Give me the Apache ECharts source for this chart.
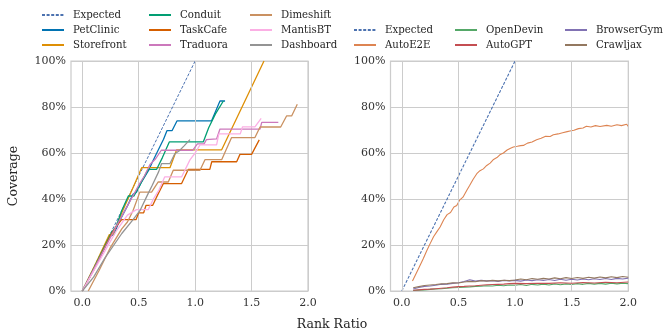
<!DOCTYPE html>
<html>
<head>
<meta charset="utf-8">
<script src="https://cdn.jsdelivr.net/npm/echarts@6/dist/echarts.min.js"></script>
<style>html,body{margin:0;padding:0;background:#fff;}#c{width:664px;height:333px;}</style>
</head>
<body>
<div id="c"></div>
<script>
// ---------- data (x = rank ratio, y = coverage %) ----------
var xTicks = [0, 0.5, 1.0, 1.5, 2.0];
var yTicks = [0, 20, 40, 60, 80, 100];

var expected = [[0,0],[1,100]];

var petClinic = [[0,0],[0.1,9],[0.2,19],[0.25,24],[0.28,24.5],[0.32,29.5],[0.4,37],[0.45,42],[0.48,43],[0.52,47],[0.59,52.6],[0.62,56],[0.66,60],[0.72,66],[0.75,69.7],[0.795,69.7],[0.84,74],[1.146,74],[1.22,82.6],[1.265,82.6]];
var storefront = [[0,0],[0.12,12],[0.24,24.5],[0.27,24.5],[0.35,34],[0.45,45],[0.526,53.6],[0.777,53.6],[0.836,61.4],[1.235,61.4],[1.61,100]];
var conduit = [[0,0],[0.1,9.5],[0.2,19.5],[0.26,25.5],[0.3,28],[0.35,35],[0.408,41.3],[0.458,41.3],[0.52,47],[0.585,52.9],[0.659,52.9],[0.71,58],[0.771,64.8],[1.072,64.8],[1.12,71],[1.18,77],[1.25,82.6]];
var taskCafe = [[0,0],[0.1,9],[0.2,19],[0.26,25],[0.3,28],[0.349,31],[0.476,31],[0.5,34],[0.544,34],[0.564,37.2],[0.623,37.2],[0.67,42],[0.718,46.7],[0.88,46.7],[0.94,52.9],[1.13,52.9],[1.147,56.2],[1.368,56.2],[1.397,59.4],[1.50,59.4],[1.568,65.7]];
var traduora = [[0,0],[0.15,14],[0.3,28],[0.4,37],[0.5,46],[0.55,50],[0.6,55],[0.65,57.5],[0.7,61.2],[0.98,61.2],[1.02,64],[1.08,64],[1.1,65.8],[1.19,66.1],[1.22,70.4],[1.575,70.4],[1.59,73.3],[1.737,73.3]];
var dimeshift = [[0.053,0],[0.15,9],[0.25,19],[0.3,23],[0.35,27],[0.4,30],[0.45,35],[0.51,43],[0.614,43],[0.673,47.4],[0.762,47.4],[0.806,52.5],[1.043,52.5],[1.087,57.1],[1.235,57.1],[1.323,66.7],[1.53,66.7],[1.575,71.3],[1.758,71.3],[1.81,76.1],[1.855,76.1],[1.905,81.2]];
var mantisBT = [[0,0],[0.15,13],[0.3,26],[0.4,33],[0.48,35.4],[0.585,35.4],[0.63,40],[0.68,44],[0.73,49.6],[0.88,49.6],[0.954,57],[1.0,60],[1.043,63.5],[1.19,63.5],[1.21,68.3],[1.40,68.3],[1.42,71.4],[1.53,71.4],[1.585,75.1]];
var dashboard = [[0,0],[0.1,6],[0.204,14.6],[0.35,25],[0.45,31],[0.514,35.2],[0.58,42],[0.62,46],[0.677,51.9],[0.703,55.4],[0.777,55.4],[0.82,59.7],[0.86,61],[0.9,63],[0.954,65.8]];

var autoE2E = [[0.094,4.3],[0.12,7],[0.15,10],[0.19,14.1],[0.22,17.5],[0.25,20.6],[0.28,23.6],[0.31,25.8],[0.338,27.8],[0.37,31],[0.40,33.2],[0.43,34.1],[0.46,36.5],[0.485,37.2],[0.51,39.5],[0.54,40.8],[0.574,43.8],[0.60,46],[0.63,48.6],[0.662,51],[0.69,52.3],[0.72,53.1],[0.75,54.6],[0.78,55.6],[0.81,57.2],[0.84,58],[0.87,59.4],[0.897,60],[0.93,61.3],[0.96,62.1],[0.985,62.6],[1.02,62.9],[1.05,63.2],[1.074,63.3],[1.11,64.3],[1.15,64.8],[1.19,65.8],[1.23,66.4],[1.27,67.3],[1.31,67.2],[1.338,67.9],[1.38,68.3],[1.42,68.8],[1.46,69.3],[1.485,69.6],[1.52,69.9],[1.56,70.6],[1.6,70.9],[1.63,71.6],[1.67,71.3],[1.71,71.9],[1.75,71.5],[1.81,72],[1.85,71.6],[1.9,72.3],[1.94,71.9],[1.985,72.5],[2.0,71.6]];
var openDevin = [[0.1,0.2],[0.15,0.4],[0.2,0.5],[0.25,0.7],[0.3,0.9],[0.35,1.0],[0.4,1.2],[0.45,1.4],[0.5,1.5],[0.55,1.7],[0.6,1.8],[0.65,2.0],[0.7,2.1],[0.75,2.3],[0.8,2.2],[0.85,2.5],[0.9,2.3],[0.95,2.6],[1.0,2.5],[1.05,2.8],[1.1,2.4],[1.15,2.9],[1.2,2.6],[1.25,3.0],[1.3,2.6],[1.35,3.1],[1.4,2.7],[1.45,3.1],[1.5,2.8],[1.55,3.2],[1.6,2.9],[1.65,3.3],[1.7,3.0],[1.75,3.3],[1.8,3.0],[1.85,3.4],[1.9,3.1],[1.95,3.4],[2.0,3.2]];
var autoGPT = [[0.1,0.3],[0.15,0.5],[0.2,0.7],[0.25,0.8],[0.3,1.0],[0.35,1.2],[0.4,1.4],[0.45,1.7],[0.5,1.9],[0.55,2.0],[0.6,2.2],[0.65,2.3],[0.7,2.5],[0.75,2.7],[0.8,2.8],[0.85,2.9],[0.9,3.0],[0.95,3.2],[1.0,3.3],[1.1,3.2],[1.2,3.4],[1.3,3.3],[1.4,3.6],[1.5,3.4],[1.6,3.7],[1.7,3.5],[1.8,3.8],[1.9,3.6],[2.0,3.9]];
var browserGym = [[0.1,0.9],[0.15,1.5],[0.2,2.0],[0.25,2.2],[0.3,2.5],[0.35,2.9],[0.4,3.0],[0.45,3.3],[0.5,3.6],[0.55,4.1],[0.6,4.9],[0.65,4.3],[0.7,4.6],[0.75,4.4],[0.8,4.5],[0.85,4.2],[0.9,4.6],[0.95,4.4],[1.0,4.6],[1.05,4.3],[1.1,4.8],[1.15,4.5],[1.2,4.9],[1.25,4.6],[1.3,5.0],[1.35,4.6],[1.4,5.1],[1.45,4.7],[1.5,5.1],[1.55,4.8],[1.6,5.2],[1.65,4.9],[1.7,5.3],[1.75,5.0],[1.8,5.4],[1.85,5.0],[1.9,5.5],[1.95,5.2],[2.0,5.6]];
var crawljax = [[0.1,1.4],[0.15,1.9],[0.2,2.4],[0.25,2.6],[0.3,2.8],[0.35,3.1],[0.4,3.2],[0.45,3.6],[0.5,3.5],[0.55,3.9],[0.6,4.2],[0.65,4.0],[0.7,4.5],[0.75,4.3],[0.8,4.6],[0.85,4.4],[0.9,4.7],[0.95,4.5],[1.0,4.8],[1.05,5.2],[1.1,4.9],[1.15,5.4],[1.2,5.1],[1.25,5.5],[1.3,5.2],[1.35,5.7],[1.4,5.3],[1.45,5.8],[1.5,5.4],[1.55,5.9],[1.6,5.5],[1.65,6.0],[1.7,5.6],[1.75,6.1],[1.8,5.7],[1.85,6.2],[1.9,5.8],[1.95,6.3],[2.0,6.0]];

var leftNames = ['Expected','PetClinic','Storefront','Conduit','TaskCafe','Traduora','Dimeshift','MantisBT','Dashboard'];
var leftData = [expected, petClinic, storefront, conduit, taskCafe, traduora, dimeshift, mantisBT, dashboard];
var leftColors = ['#4c72b0','#0173b2','#de8f05','#029e73','#d55e00','#cc78bc','#ca9161','#fbafe4','#949494'];

var rightNames = ['Expected','AutoE2E','OpenDevin','AutoGPT','BrowserGym','Crawljax'];
var rightData = [expected, autoE2E, openDevin, autoGPT, browserGym, crawljax];
var rightColors = ['#4c72b0','#dd8452','#55a868','#c44e52','#8172b3','#937860'];

// ---------- chart ----------
var FONT = 'DejaVu Serif';
var GRID = '#cccccc';
var chart = echarts.init(document.getElementById('c'), null, {renderer:'canvas'});

function xAxisCfg(idx){
  return {
    type:'value', gridIndex:idx, min:-0.1, max:2.0, interval:0.1,
    axisLine:{show:false}, axisTick:{show:false}, splitLine:{show:false},
    axisLabel:{margin:7, color:'#333', fontFamily:FONT, fontSize:11,
      formatter:function(v){var t=v*2; if(Math.abs(t-Math.round(t))<1e-6 && v>-0.01) return (Math.round(t)/2).toFixed(1); return '';}}
  };
}
function yAxisCfg(idx){
  return {
    type:'value', gridIndex:idx, min:0, max:100, interval:20,
    axisLine:{show:false}, axisTick:{show:false},
    splitLine:{show:true, lineStyle:{color:GRID, width:1}},
    axisLabel:{margin:5, color:'#333', fontFamily:FONT, fontSize:11, formatter:'{value}%'}
  };
}
function gridLinesSeries(idx){
  return {
    type:'line', name:'_grid'+idx, xAxisIndex:idx, yAxisIndex:idx, data:[], z:1, silent:true,
    markLine:{symbol:'none', silent:true, animation:false, label:{show:false},
      lineStyle:{color:GRID, width:1, type:'solid'},
      data: xTicks.map(function(v){return {xAxis:v};})}
  };
}

var series = [gridLinesSeries(0), gridLinesSeries(1)];
leftNames.forEach(function(n,i){
  series.push({type:'line', name:n, xAxisIndex:0, yAxisIndex:0, data:leftData[i],
    symbol:'none', showSymbol:false, z:2+i, silent:true,
    lineStyle:{color:leftColors[i], width: i===0?1:1.3, type: i===0?[3,1.6]:'solid'},
    itemStyle:{color:leftColors[i]}});
});
rightNames.forEach(function(n,i){
  series.push({type:'line', name:n, xAxisIndex:1, yAxisIndex:1, data:rightData[i],
    symbol:'none', showSymbol:false, z:2+i, silent:true,
    lineStyle:{color:rightColors[i], width: 1.1, type: i===0?[3,1.6]:'solid'},
    itemStyle:{color:rightColors[i]}});
});

function legendCol(left, top, names){
  return {orient:'vertical', left:left, top:top, padding:0, itemWidth:22, itemHeight:12, itemGap:3,
    selectedMode:false, data:names,
    itemStyle:{color:'rgba(0,0,0,0)', borderColor:'rgba(0,0,0,0)', borderWidth:0, opacity:0},
    textStyle:{fontFamily:FONT, fontSize:10.2, color:'#262626', lineHeight:12, padding:[0,0,0,4]}};
}

var option = {
  animation:false,
  backgroundColor:'#ffffff',
  grid:[
    {left:71, right:356, top:61, bottom:42, show:true, borderColor:GRID, borderWidth:1.25, backgroundColor:'transparent'},
    {left:390.5, right:35.7, top:61, bottom:42, show:true, borderColor:GRID, borderWidth:1.25, backgroundColor:'transparent'}
  ],
  xAxis:[xAxisCfg(0), xAxisCfg(1)],
  yAxis:[yAxisCfg(0), yAxisCfg(1)],
  legend:[
    legendCol(41, 9, ['Expected','PetClinic','Storefront']),
    legendCol(148, 9, ['Conduit','TaskCafe','Traduora']),
    legendCol(249, 9, ['Dimeshift','MantisBT','Dashboard']),
    legendCol(353, 24, ['Expected','AutoE2E']),
    legendCol(454, 24, ['OpenDevin','AutoGPT']),
    legendCol(564, 24, ['BrowserGym','Crawljax'])
  ],
  graphic:[
    {type:'text', x:14, y:176, rotation:Math.PI/2,
      style:{text:'Coverage', font:'12.5px "DejaVu Serif"', fill:'#262626', align:'center', verticalAlign:'middle', textAlign:'center', textVerticalAlign:'middle'}},
    {type:'text', x:332, y:325,
      style:{text:'Rank Ratio', font:'12.5px "DejaVu Serif"', fill:'#262626', align:'center', verticalAlign:'middle', textAlign:'center', textVerticalAlign:'middle'}}
  ],
  series:series
};
chart.setOption(option);
</script>
</body>
</html>
